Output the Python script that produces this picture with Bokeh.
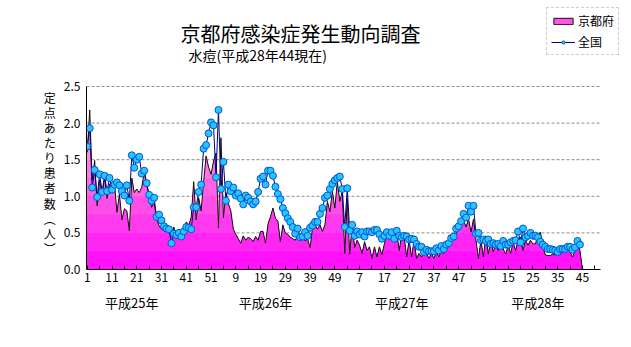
import numpy as np
from bokeh.plotting import figure
from bokeh.models import (Range1d, FixedTicker, Label, Legend, LegendItem,
                          PrintfTickFormatter, LinearAxis)
from bokeh.embed import file_html
from bokeh.resources import INLINE

FONT = "Noto Sans CJK JP"

chart_title = "京都府感染症発生動向調査"
chart_subtitle = "水痘(平成28年44現在)"
y_axis_chars = ["定", "点", "あ", "た", "り", "患", "者", "数", "︵", "人", "︶"]
series_names = ["京都府", "全国"]
year_names = ["平成25年", "平成26年", "平成27年", "平成28年"]
week_tick_labels = ["1", "11", "21", "31", "41", "51", "9", "19", "29", "39", "49",
                    "7", "17", "27", "37", "47", "5", "15", "25", "35", "45"]
y_ticks = [0.0, 0.5, 1.0, 1.5, 2.0, 2.5]

# 京都府 weekly values (per sentinel), 2013 w1 .. 2016 w44 (+ empty w45)
kyoto_2013 = [1.60, 2.18, 1.22, 1.49, 0.87, 1.22, 1.03, 1.26, 0.97, 1.17,
              1.08, 1.17, 0.78, 1.03, 0.68, 0.83, 0.80, 0.53, 1.25, 1.05,
              1.10, 1.05, 1.12, 1.33, 1.15, 1.00, 0.85, 0.92, 0.70, 0.60,
              0.55, 0.53, 0.52, 0.56, 0.45, 0.58, 0.42, 0.55, 0.50, 0.55,
              0.65, 0.60, 0.72, 1.20, 0.68, 0.98, 0.80, 1.20, 1.55, 1.40,
              1.30, 1.48]
kyoto_2014 = [1.59, 0.57, 1.80, 0.71, 1.05, 0.90, 0.80, 0.55, 0.48, 0.42,
              0.36, 0.46, 0.40, 0.44, 0.42, 0.38, 0.45, 0.40, 0.52, 0.52,
              0.36, 0.62, 0.72, 0.84, 0.70, 0.66, 0.38, 0.61, 0.50, 0.48,
              0.44, 0.42, 0.40, 0.46, 0.39, 0.48, 0.39, 0.42, 0.30, 0.57,
              0.61, 0.55, 0.61, 0.52, 0.61, 0.93, 0.79, 1.07, 0.84, 1.20,
              0.93, 1.07]
kyoto_2015 = [0.22, 0.97, 0.21, 0.62, 0.30, 0.40, 0.33, 0.22, 0.38, 0.26,
              0.31, 0.15, 0.31, 0.17, 0.31, 0.20, 0.35, 0.49, 0.42, 0.49,
              0.40, 0.51, 0.26, 0.48, 0.45, 0.17, 0.40, 0.17, 0.40, 0.15,
              0.22, 0.17, 0.26, 0.22, 0.15, 0.22, 0.15, 0.24, 0.17, 0.26,
              0.22, 0.30, 0.33, 0.40, 0.42, 0.49, 0.55, 0.60, 0.67, 0.58,
              0.69, 0.51]
kyoto_2016 = [0.69, 0.40, 0.15, 0.40, 0.17, 0.46, 0.21, 0.40, 0.24, 0.35,
              0.26, 0.40, 0.28, 0.21, 0.33, 0.22, 0.37, 0.26, 0.40, 0.44,
              0.26, 0.40, 0.33, 0.40, 0.35, 0.35, 0.46, 0.51, 0.31, 0.20,
              0.19, 0.19, 0.21, 0.20, 0.25, 0.20, 0.28, 0.26, 0.35, 0.24,
              0.17, 0.26, 0.34, 0.26, 0.0]

# 全国 weekly values
national_2013 = [1.68, 1.93, 1.12, 1.36, 0.99, 1.30, 1.06, 1.28, 1.07, 1.25,
                 1.09, 1.16, 1.19, 1.15, 1.07, 1.01, 1.15, 0.94, 1.56, 1.39,
                 1.50, 1.54, 1.31, 1.35, 1.18, 1.02, 0.94, 0.98, 0.72, 0.75,
                 0.67, 0.59, 0.56, 0.55, 0.36, 0.49, 0.47, 0.50, 0.45, 0.52,
                 0.58, 0.57, 0.55, 0.85, 0.85, 1.06, 1.16, 1.65, 1.70, 1.86,
                 2.01, 1.97]
national_2014 = [1.26, 2.18, 1.10, 1.47, 0.94, 1.16, 1.07, 1.12, 1.01, 1.04,
                 0.97, 0.89, 1.01, 0.98, 0.93, 0.89, 0.93, 1.06, 1.24, 1.27,
                 1.16, 1.35, 1.35, 1.28, 1.13, 1.03, 0.96, 0.84, 0.77, 0.70,
                 0.65, 0.58, 0.49, 0.56, 0.44, 0.45, 0.51, 0.46, 0.57, 0.60,
                 0.65, 0.65, 0.76, 0.84, 0.98, 1.01, 1.10, 1.17, 1.22, 1.25,
                 1.27, 1.10]
national_2015 = [0.58, 1.11, 0.53, 0.61, 0.46, 0.52, 0.48, 0.51, 0.45, 0.52,
                 0.52, 0.51, 0.54, 0.54, 0.48, 0.42, 0.46, 0.51, 0.46, 0.51,
                 0.42, 0.53, 0.46, 0.44, 0.46, 0.45, 0.41, 0.42, 0.41, 0.35,
                 0.31, 0.31, 0.24, 0.27, 0.25, 0.25, 0.25, 0.29, 0.26, 0.32,
                 0.28, 0.34, 0.36, 0.43, 0.45, 0.56, 0.59, 0.66, 0.76, 0.71,
                 0.87, 0.79]
national_2016 = [0.87, 0.49, 0.50, 0.40, 0.41, 0.39, 0.41, 0.35, 0.36, 0.34,
                 0.35, 0.32, 0.39, 0.34, 0.34, 0.37, 0.39, 0.40, 0.52, 0.37,
                 0.56, 0.44, 0.46, 0.50, 0.46, 0.46, 0.44, 0.38, 0.34, 0.31,
                 0.28, 0.28, 0.27, 0.26, 0.24, 0.28, 0.28, 0.28, 0.31, 0.31,
                 0.27, 0.30, 0.39, 0.34]

kyoto = np.array(kyoto_2013 + kyoto_2014 + kyoto_2015 + kyoto_2016)
national = np.array(national_2013 + national_2014 + national_2015 + national_2016)
xk = np.arange(len(kyoto))
xn = np.arange(len(national))

# layout: frame spans to canvas top/right so annotations outside the axes stay visible
PX_PER_WEEK = 2.476
X0 = -0.3
X_AXIS_END = 207.1
FRAME_W = 631 - 86
FRAME_H = 347 - 78
Y_TOP = y_ticks[-1]
y_end = Y_TOP * FRAME_H / 183.0
x_end = X0 + FRAME_W / PX_PER_WEEK

p = figure(width=631, height=347, x_range=Range1d(X0, x_end), y_range=Range1d(0, y_end),
           output_backend="svg", toolbar_location=None,
           min_border_left=86, min_border_right=0, min_border_top=0, min_border_bottom=78)
p.background_fill_color = "white"
p.border_fill_color = "white"
p.outline_line_color = None
p.xgrid.visible = False
p.ygrid.visible = False

# dashed horizontal grid lines (only across the axis extent)
grid_vals = y_ticks[1:]
p.multi_line(xs=[[X0, X_AXIS_END] for _ in grid_vals], ys=[[v, v] for v in grid_vals],
             line_color="#8c8c8c", line_dash="3 2", line_width=1)

# gradient-like fill for 京都府 (lighter pink with height)
levels = np.arange(2.5, 0.0, -0.25)
for L in levels:
    t = (L - 0.125) / 2.5
    g = int(8 + 200 * t)
    b = int(252 - 55 * t)
    col = "#%02x%02x%02x" % (255, min(g, 255), b)
    p.varea(x=xk, y1=0, y2=np.minimum(kyoto, L), fill_color=col)

k_line = p.line(xk, kyoto, line_color="#111111", line_width=1)
n_line = p.line(xn, national, line_color="#00007a", line_width=1)
n_pts = p.scatter(xn, national, size=7, fill_color="#27c4ff", line_color="#0055d4", line_width=1)
# zero-size swatch (at the first data point) used only for the legend entry
k_swatch = p.quad(left=[xk[0]], right=[xk[0]], bottom=[0], top=[0],
                  fill_color="#ff55dd", line_color="#111111", line_width=1)

# axes
p.yaxis.bounds = (0, Y_TOP)
p.yaxis.ticker = FixedTicker(ticks=y_ticks)
p.yaxis.formatter = PrintfTickFormatter(format="%.1f")
p.yaxis.major_tick_out = 0
p.yaxis.major_tick_in = 0
p.yaxis.minor_tick_out = 0
p.yaxis.minor_tick_in = 0
p.yaxis.major_label_standoff = 6
# stacked upright characters; leading blank lines push the block down toward the axis
p.yaxis.axis_label = "\n".join(["　"] * 5 + y_axis_chars)
p.yaxis.axis_label_orientation = "horizontal"
p.yaxis.axis_label_text_font = FONT
p.yaxis.axis_label_text_font_size = "12px"
p.yaxis.axis_label_text_font_style = "normal"
p.yaxis.axis_label_text_color = "black"
p.yaxis.axis_label_text_line_height = 0.89
p.yaxis.axis_label_standoff = 5

xt = list(range(0, 206, 5))
overrides = {}
for t in xt:
    overrides[t] = week_tick_labels[t // 10] if t % 10 == 0 else ""
p.xaxis.bounds = (X0, X_AXIS_END)
p.xaxis.ticker = FixedTicker(ticks=xt)
p.xaxis.major_label_overrides = overrides
p.xaxis.major_tick_in = 4
p.xaxis.major_tick_out = 0
p.xaxis.minor_tick_in = 0
p.xaxis.minor_tick_out = 0
p.xaxis.major_label_standoff = 3

for ax in (p.xaxis, p.yaxis):
    ax.axis_line_color = "black"
    ax.major_tick_line_color = "black"
    ax.major_label_text_font = FONT
    ax.major_label_text_font_size = "12px"
    ax.major_label_text_color = "black"

# year names as a second, line-less axis below
year_pos = [18, 72, 127, 182]
yr_axis = LinearAxis(ticker=FixedTicker(ticks=year_pos),
                     major_label_overrides={pos: nm for pos, nm in zip(year_pos, year_names)})
yr_axis.axis_line_color = None
yr_axis.major_tick_line_color = None
yr_axis.minor_tick_line_color = None
yr_axis.major_label_text_font = FONT
yr_axis.major_label_text_font_size = "13px"
yr_axis.major_label_text_color = "black"
yr_axis.major_label_standoff = 2
p.add_layout(yr_axis, "below")

# titles
p.add_layout(Label(x=214, y=236, x_units="screen", y_units="screen", text=chart_title,
                   text_font=FONT, text_font_size="20px", text_align="center",
                   text_baseline="middle", text_color="black"))
p.add_layout(Label(x=102, y=215, x_units="screen", y_units="screen", text=chart_subtitle,
                   text_font=FONT, text_font_size="14px", text_align="left",
                   text_baseline="middle", text_color="black"))

legend = Legend(items=[LegendItem(label=series_names[0], renderers=[k_swatch]),
                       LegendItem(label=series_names[1], renderers=[n_line, n_pts])],
                location=(460, 214), orientation="vertical")
legend.label_text_font = FONT
legend.label_text_font_size = "12px"
legend.label_text_color = "black"
legend.glyph_width = 24
legend.glyph_height = 8
legend.label_standoff = 3
legend.padding = 4
legend.spacing = 4
legend.margin = 0
legend.border_line_color = "#a0a0a0"
legend.border_line_dash = "1 1"
legend.background_fill_color = "white"
legend.background_fill_alpha = 1.0
legend.label_height = 16
p.add_layout(legend)

open("out.html", "w").write(file_html(p, INLINE))
